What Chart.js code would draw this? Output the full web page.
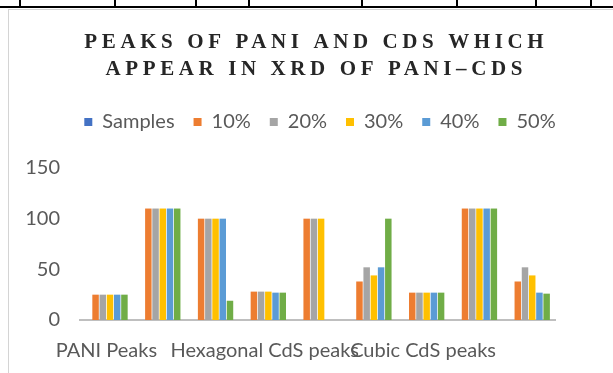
<!DOCTYPE html>
<html>
<head>
<meta charset="utf-8">
<script src="https://cdn.jsdelivr.net/npm/chart.js@4.4.1/dist/chart.umd.min.js"></script>
<style>
  html, body { margin: 0; padding: 0; background: #fff; }
  #page { position: relative; width: 613px; height: 373px; overflow: hidden; }
  .rule { position: absolute; background: #000; }
  #frame { position: absolute; left: 8px; top: 9px; width: 640px; height: 400px;
           border: 1px solid #d4d4d4; box-sizing: border-box; }
  #chart { position: absolute; left: 0; top: 0; }
</style>
</head>
<body>
<div id="page">
  <div class="rule" style="left:0;top:6px;width:613px;height:2px"></div>
  <div class="rule" style="left:19px;top:0;width:2px;height:7px"></div>
  <div class="rule" style="left:114px;top:0;width:2px;height:7px"></div>
  <div class="rule" style="left:195px;top:0;width:2px;height:7px"></div>
  <div class="rule" style="left:248px;top:0;width:2px;height:7px"></div>
  <div class="rule" style="left:361px;top:0;width:2px;height:7px"></div>
  <div class="rule" style="left:456px;top:0;width:2px;height:7px"></div>
  <div class="rule" style="left:535px;top:0;width:2px;height:7px"></div>
  <div class="rule" style="left:590px;top:0;width:2px;height:7px"></div>
  <div id="frame"></div>
  <canvas id="chart" width="613" height="373"></canvas>
</div>
<script>
// Peak groups: three rows per phase, label on the first row of each block
const categories = ['PANI Peaks', '', '', 'Hexagonal CdS peaks', '', '', 'Cubic CdS peaks', '', ''];
const titleLines = ['PEAKS OF PANI AND CDS WHICH', 'APPEAR IN XRD OF PANI\u2013CDS'];
const yTicks = [0, 50, 100, 150];

const samples = [0, 0, 0, 0, 0, 0, 0, 0, 0];
const pct10 = [25, 110, 100, 28, 100, 38, 27, 110, 38];
const pct20 = [25, 110, 100, 28, 100, 52, 27, 110, 52];
const pct30 = [25, 110, 100, 28, 100, 44, 27, 110, 44];
const pct40 = [25, 110, 100, 27, 0, 52, 27, 110, 27];
const pct50 = [25, 110, 19, 27, 0, 100, 27, 110, 26];

const seriesNames = ['Samples', '10%', '20%', '30%', '40%', '50%'];
const seriesData = [samples, pct10, pct20, pct30, pct40, pct50];
const seriesColors = ['#4472C4', '#ED7D31', '#A5A5A5', '#FFC000', '#5B9BD5', '#70AD47'];

const textGray = '#595959';
const labelFont = { family: 'Lato', size: 20 };

// Letter-spaced serif heading drawn above the legend
const spacedTitle = {
  id: 'spacedTitle',
  afterDraw(chart) {
    const ctx = chart.ctx;
    const spacing = 4.6;
    ctx.save();
    ctx.font = 'bold 21px "Liberation Serif"';
    ctx.fillStyle = '#262626';
    ctx.textAlign = 'center';
    ctx.textBaseline = 'alphabetic';
    if ('letterSpacing' in ctx) ctx.letterSpacing = spacing + 'px';
    const cx = 314 + spacing / 2;
    ctx.fillText(titleLines[0], cx, 48);
    ctx.fillText(titleLines[1], cx, 75);
    ctx.restore();
  }
};

// Legend block: fixed height and shifted to sit centred over the page
const legendPlacement = {
  id: 'legendPlacement',
  beforeLayout(chart) {
    const lg = chart.legend;
    if (lg && !lg._fixedFit) {
      const fit = lg.fit.bind(lg);
      lg.fit = function () { fit(); this.height = 75; };
      lg._fixedFit = true;
    }
  },
  afterLayout(chart) {
    const lg = chart.legend;
    if (lg) { lg.left += 29; lg.right += 29; }
  }
};

new Chart(document.getElementById('chart'), {
  type: 'bar',
  data: {
    labels: categories,
    datasets: seriesNames.map((name, i) => ({
      label: name,
      data: seriesData[i],
      backgroundColor: seriesColors[i],
      borderWidth: 0,
      categoryPercentage: 0.82,
      barPercentage: 0.9
    }))
  },
  options: {
    responsive: false,
    animation: false,
    devicePixelRatio: 1,
    layout: { padding: { top: 93, left: 27, right: 58, bottom: 0 } },
    plugins: {
      title: { display: false },
      tooltip: { enabled: false },
      legend: {
        position: 'top',
        labels: {
          boxWidth: 8,
          boxHeight: 8,
          padding: 19,
          color: textGray,
          font: labelFont
        }
      }
    },
    scales: {
      x: {
        grid: { display: false, drawTicks: false },
        border: { display: true, color: '#bfbfbf', width: 2 },
        ticks: {
          autoSkip: false,
          maxRotation: 0,
          minRotation: 0,
          padding: 19,
          color: textGray,
          font: labelFont
        },
        afterFit(scale) { scale.height = 53; }
      },
      y: {
        min: 0,
        max: 150,
        grid: { display: false, drawTicks: false },
        border: { display: false },
        afterBuildTicks(scale) { scale.ticks = yTicks.map(v => ({ value: v })); },
        ticks: {
          padding: 20,
          color: textGray,
          font: labelFont
        },
        afterFit(scale) { scale.width = 53; }
      }
    }
  },
  plugins: [spacedTitle, legendPlacement]
});
</script>
</body>
</html>
